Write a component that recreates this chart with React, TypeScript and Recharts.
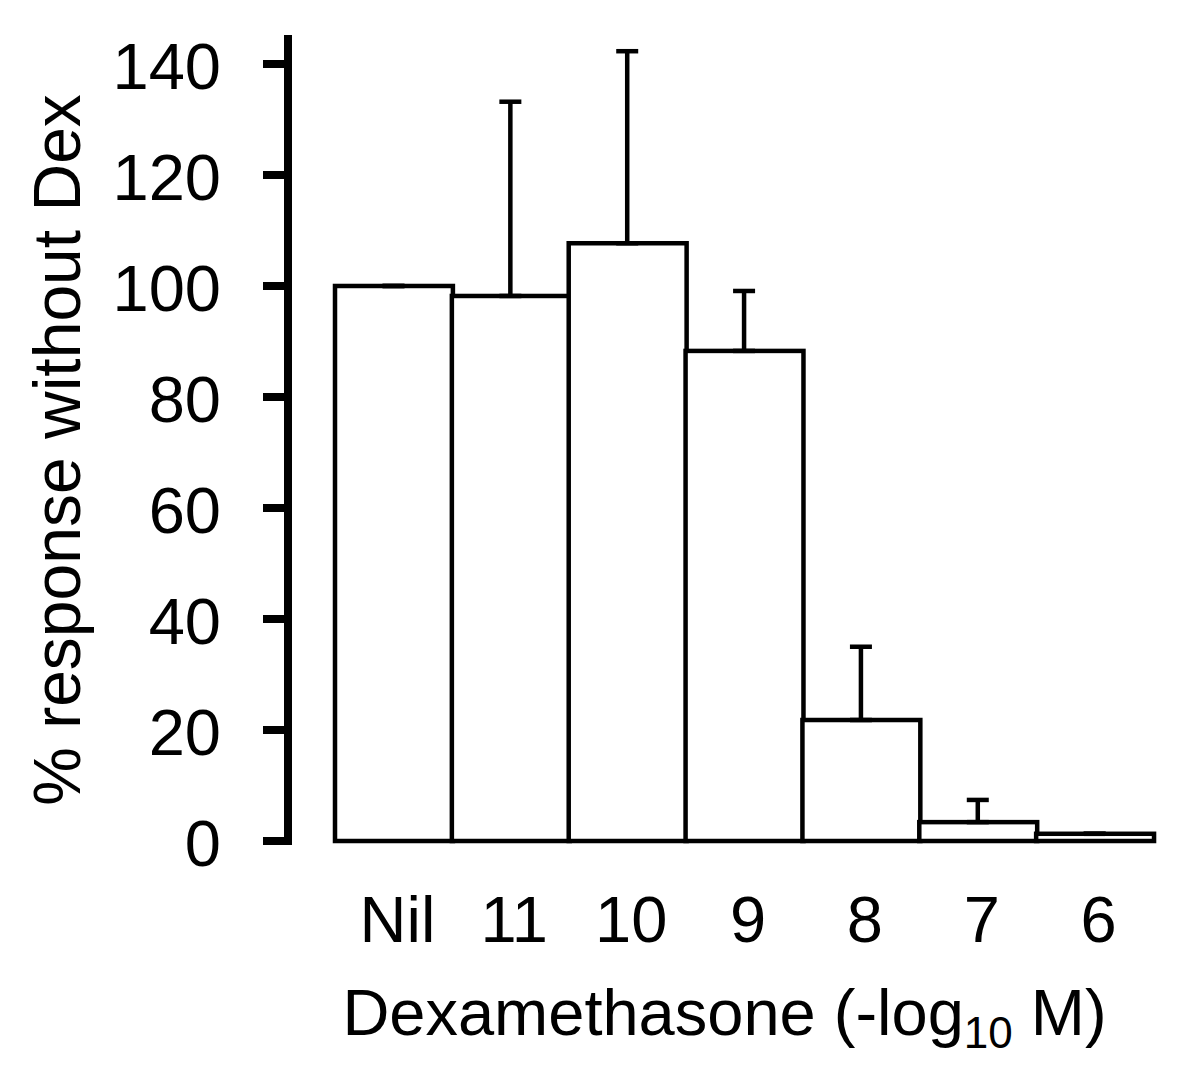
import React from 'react';
import { BarChart, Bar, XAxis, YAxis, ErrorBar, Label } from 'recharts';

const categories = ['Nil', '11', '10', '9', '8', '7', '6'];
const means = [100, 98.2, 107.7, 88.3, 21.8, 3.4, 1.3];
const errors = [0, 35.0, 34.6, 10.8, 13.2, 4.0, 0];
const yTicks = [0, 20, 40, 60, 80, 100, 120, 140];

const data = categories.map((c, i) => ({ name: c, mean: means[i], err: [0, errors[i]] }));

const FONT = '"Liberation Sans", Arial, Helvetica, sans-serif';

const XTick = (props: any) => {
  const { x, y, payload } = props;
  return (
    <text x={x + 4} y={y} dy="0.71em" textAnchor="middle" fontSize={65} fontFamily={FONT} fill="#000">
      {payload.value}
    </text>
  );
};

const YTick = (props: any) => {
  const { x, y, payload } = props;
  return (
    <text x={x} y={y} dy="0.38em" textAnchor="end" fontSize={65} fontFamily={FONT} fill="#000">
      {payload.value}
    </text>
  );
};

const XLabel = (props: any) => {
  const vb = props.viewBox || { x: 0, y: 0, width: 0, height: 0 };
  const cx = vb.x + vb.width / 2 + 4;
  const by = vb.y + 194;
  return (
    <text x={cx} y={by} textAnchor="middle" fontSize={65} fontFamily={FONT} fill="#000">
      <tspan>Dexamethasone (-log</tspan>
      <tspan fontSize={44} dy={13}>10</tspan>
      <tspan dy={-13}> M)</tspan>
    </text>
  );
};

const YLabel = (props: any) => {
  const vb = props.viewBox || { x: 0, y: 0, width: 0, height: 0 };
  const cx = vb.x + 80;
  const cy = vb.y + vb.height / 2 + 10;
  return (
    <text
      x={cx}
      y={cy}
      textAnchor="middle"
      fontSize={66}
      fontFamily={FONT}
      fill="#000"
      transform={`rotate(-90, ${cx}, ${cy})`}
    >
      % response without Dex
    </text>
  );
};

const BarShape = (props: any) => {
  const { x, y, width, height } = props;
  if (width == null || height == null) return null;
  return (
    <rect
      x={x}
      y={y}
      width={width + 0.9}
      height={height}
      fill="#fff"
      stroke="#000"
      strokeWidth={4.5}
    />
  );
};

export default function App() {
  return (
    <div style={{ position: 'absolute', left: 0, top: 0, background: '#fff' }}>
      <BarChart
        width={1200}
        height={1091}
        data={data}
        margin={{ top: 39, right: 47, bottom: 0, left: 0 }}
        barCategoryGap={0}
        barGap={0}
      >
        <XAxis
          dataKey="name"
          axisLine={false}
          tickLine={false}
          tickSize={0}
          tickMargin={55}
          height={250}
          padding={{ left: 47, right: 0 }}
          tick={<XTick />}
          interval={0}
        >
          <Label content={<XLabel />} />
        </XAxis>
        <YAxis
          width={288}
          domain={[0, 144.5]}
          ticks={yTicks}
          interval={0}
          axisLine={{ stroke: '#000', strokeWidth: 8, strokeLinecap: 'square' }}
          tickLine={{ stroke: '#000', strokeWidth: 8 }}
          tickSize={25}
          tickMargin={42}
          tick={<YTick />}
        >
          <Label content={<YLabel />} />
        </YAxis>
        <Bar dataKey="mean" fill="#fff" stroke="#000" strokeWidth={4.5} shape={<BarShape />} isAnimationActive={false}>
          <ErrorBar dataKey="err" direction="y" width={11} stroke="#000" strokeWidth={4.5} isAnimationActive={false} />
        </Bar>
      </BarChart>
    </div>
  );
}
